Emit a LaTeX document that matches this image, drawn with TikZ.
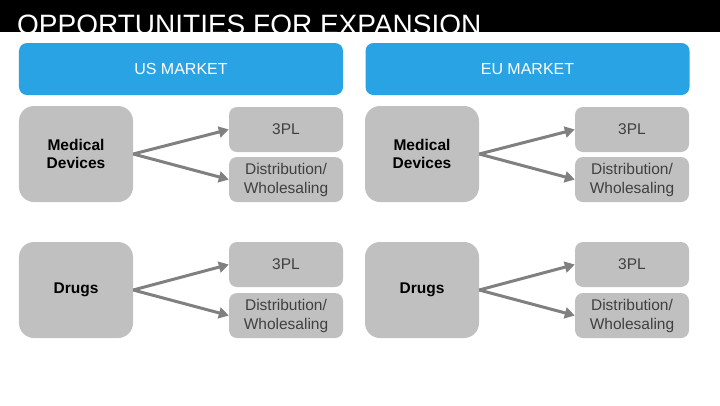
\documentclass[tikz,border=0pt]{standalone}
\usepackage{fontspec}
\setmainfont{Liberation Sans}
\usetikzlibrary{arrows.meta}

\definecolor{mktblue}{HTML}{29A3E3}
\definecolor{boxgray}{HTML}{C0C0C0}
\definecolor{arrowgray}{HTML}{808080}

\begin{document}
\begin{tikzpicture}[x=1bp,y=-1bp,
    market/.style={fill=mktblue,rounded corners=8bp,minimum width=324bp,minimum height=52bp,
        text=white,font=\fontsize{16bp}{19bp}\selectfont},
    product/.style={fill=boxgray,rounded corners=15bp,minimum width=114bp,minimum height=96bp,
        align=center,font=\bfseries\fontsize{15.5bp}{18bp}\selectfont},
    channel/.style={fill=boxgray,rounded corners=8bp,minimum width=114bp,minimum height=45bp,
        align=center,text=black!75,font=\fontsize{15.5bp}{19bp}\selectfont},
    flow/.style={-{Triangle[length=10bp,width=11bp]},draw=arrowgray,line width=3bp}]
    \useasboundingbox (0,0) rectangle (720,405);

    % barra titolo
    \fill[black] (0,0) rectangle (720,32);
    \node[anchor=base west,inner sep=0,text=white,font=\fontsize{28bp}{34bp}\selectfont]
        (title) at (17,34) {OPPORTUNITIES FOR EXPANSION};

    % mercati
    \node[market] (us) at (181,69) {US MARKET};
    \node[market] (eu) at (527.5,69) {EU MARKET};

    % prodotti
    \node[product] (usmed) at (76,154) {Medical\\Devices};
    \node[product] (usdrug) at (76,290) {Drugs};
    \node[product] (eumed) at (422,154) {Medical\\Devices};
    \node[product] (eudrug) at (422,290) {Drugs};

    % canali US
    \node[channel] (usmedpl) at (286,129.5) {3PL};
    \node[channel] (usmeddist) at (286,179.5) {Distribution/\\Wholesaling};
    \node[channel] (usdrugpl) at (286,264.5) {3PL};
    \node[channel] (usdrugdist) at (286,315.5) {Distribution/\\Wholesaling};

    % canali EU
    \node[channel] (eumedpl) at (632,129.5) {3PL};
    \node[channel] (eumeddist) at (632,179.5) {Distribution/\\Wholesaling};
    \node[channel] (eudrugpl) at (632,264.5) {3PL};
    \node[channel] (eudrugdist) at (632,315.5) {Distribution/\\Wholesaling};

    % frecce
    \draw[flow] (usmed.east) -- (usmedpl.west);
    \draw[flow] (usmed.east) -- (usmeddist.west);
    \draw[flow] (usdrug.east) -- (usdrugpl.west);
    \draw[flow] (usdrug.east) -- (usdrugdist.west);
    \draw[flow] (eumed.east) -- (eumedpl.west);
    \draw[flow] (eumed.east) -- (eumeddist.west);
    \draw[flow] (eudrug.east) -- (eudrugpl.west);
    \draw[flow] (eudrug.east) -- (eudrugdist.west);
\end{tikzpicture}
\end{document}
